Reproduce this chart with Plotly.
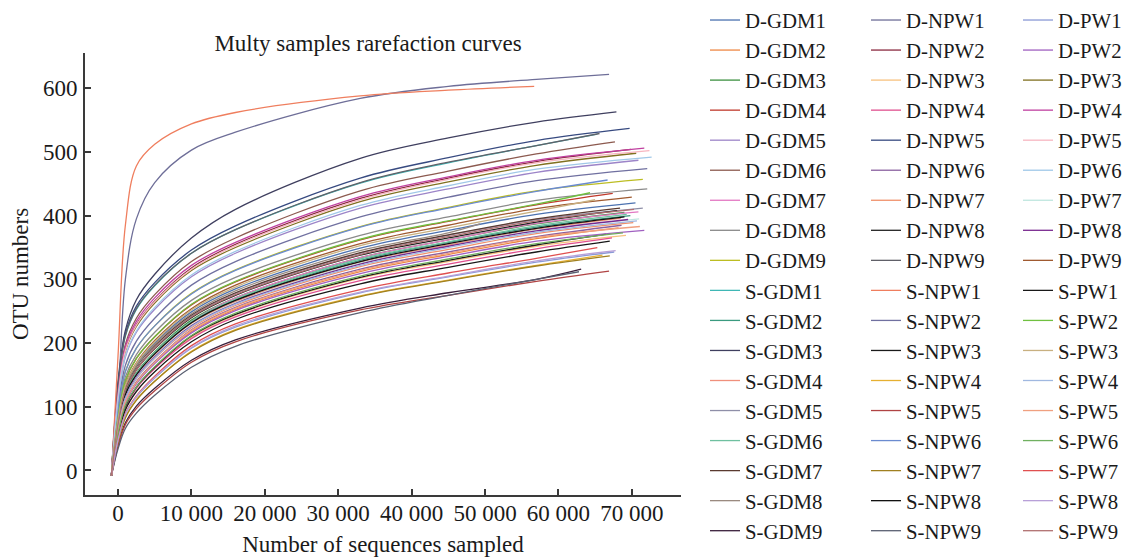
import plotly.graph_objects as go

FONT = "Liberation Serif, Times New Roman, serif"

depth_grid = [-900, 0, 1000, 2500, 5000, 10000, 16000, 33000, 45000, 57000]

# ---------------- column 1 of legend ----------------
d_gdm_names = ["D-GDM1", "D-GDM2", "D-GDM3", "D-GDM4", "D-GDM5", "D-GDM6", "D-GDM7", "D-GDM8", "D-GDM9"]
d_gdm_colors = ["#4c72b0", "#ee8844", "#3c9040", "#c0392b", "#9c84c8", "#8c5a4f", "#e377c2", "#8a8a8a", "#bcbd22"]
d_gdm_otu = [
    [-8, 78, 132, 166, 200, 249, 285, 349, 377, 402],
    [-8, 61, 107, 138, 170, 218, 253, 312, 339, 364],
    [-8, 70, 121, 153, 186, 236, 271, 334, 362, 387],
    [-8, 83, 141, 176, 210, 260, 296, 362, 391, 417],
    [-8, 109, 178, 217, 253, 304, 341, 412, 442, 468],
    [-8, 122, 198, 239, 276, 328, 365, 439, 470, 497],
    [-8, 67, 118, 150, 184, 234, 271, 334, 362, 388],
    [-8, 88, 147, 182, 217, 267, 303, 369, 398, 424],
    [-8, 93, 156, 192, 227, 278, 315, 383, 413, 439],
]
d_gdm_end_depth = [70500, 68200, 69000, 67400, 70900, 67700, 70900, 72100, 71500]
d_gdm_end_otu = [420, 381, 405, 435, 487, 516, 406, 442, 457]

s_gdm_names = ["S-GDM1", "S-GDM2", "S-GDM3", "S-GDM4", "S-GDM5", "S-GDM6", "S-GDM7", "S-GDM8", "S-GDM9"]
s_gdm_colors = ["#3fb7b5", "#3a9a7f", "#3f3f5f", "#f0907c", "#8f8fa8", "#6fc0a0", "#5a3a30", "#9a8a80", "#3a1f3c"]
s_gdm_otu = [
    [-8, 132, 211, 253, 290, 341, 378, 451, 483, 510],
    [-8, 69, 119, 151, 184, 233, 268, 330, 358, 382],
    [-8, 140, 220, 268, 308, 365, 410, 490, 522, 547],
    [-8, 68, 118, 150, 182, 231, 265, 327, 354, 379],
    [-8, 74, 126, 159, 193, 242, 278, 341, 369, 394],
    [-8, 69, 120, 152, 185, 234, 269, 332, 359, 384],
    [-8, 76, 130, 163, 196, 244, 279, 342, 370, 395],
    [-8, 77, 131, 164, 198, 246, 282, 345, 373],
    [-8, 40, 75, 101, 129, 173, 205, 255, 279, 300],
]
s_gdm_end_depth = [65300, 69800, 67900, 68500, 71500, 69300, 68400, 49300, 63100]
s_gdm_end_otu = [528, 400, 563, 396, 412, 402, 412, 387, 316]

# ---------------- column 2 of legend ----------------
d_npw_names = ["D-NPW1", "D-NPW2", "D-NPW3", "D-NPW4", "D-NPW5", "D-NPW6", "D-NPW7", "D-NPW8", "D-NPW9"]
d_npw_colors = ["#6e6e98", "#8b2a40", "#f7c27f", "#e0508f", "#374a80", "#8a60a0", "#f0906a", "#222222", "#606068"]
d_npw_otu = [
    [-8, 110, 300, 395, 452, 503, 531, 584, 603, 614],
    [-8, 116, 189, 229, 266, 318, 355, 427, 459, 485],
    [-8, 56, 101, 130, 161, 209, 244, 302, 328, 352],
    [-8, 56, 99, 129, 160, 207, 241, 298, 324, 348],
    [-8, 134, 215, 258, 295, 346, 384, 459, 491, 518],
    [-8, 61, 108, 139, 171, 221, 256, 316, 343, 367],
    [-8, 64, 113, 144, 176, 224, 259, 320, 347, 372],
    [-8, 73, 125, 158, 191, 240, 275, 338, 365, 390],
    [-8, 132, 212, 254, 291, 341, 378, 452, 484, 510],
]
d_npw_end_depth = [66900, 69900, 69200, 67300, 69700, 68600, 70200, 68000, 65600]
d_npw_end_otu = [622, 504, 369, 365, 537, 385, 389, 408, 529]

s_npw_names = ["S-NPW1", "S-NPW2", "S-NPW3", "S-NPW4", "S-NPW5", "S-NPW6", "S-NPW7", "S-NPW8", "S-NPW9"]
s_npw_colors = ["#ef7e5e", "#7070a0", "#1a1a1a", "#e6b031", "#b04444", "#6b8bd0", "#a08020", "#111111", "#5a6072"]
s_npw_otu = [
    [-8, 180, 385, 478, 512, 544, 562, 588, 597],
    [-8, 100, 165, 203, 239, 291, 328, 398, 429, 455],
    [-8, 57, 101, 131, 162, 211, 245, 303, 330, 354],
    [-8, 45, 83, 111, 140, 187, 221, 274, 299, 322],
    [-8, 38, 72, 97, 125, 170, 202, 252, 275, 297],
    [-8, 93, 155, 192, 227, 277, 314, 382, 412, 438],
    [-8, 45, 83, 110, 140, 186, 220, 273, 298, 321],
    [-8, 68, 119, 150, 183, 232, 267, 328, 356, 380],
    [-8, 34, 66, 90, 118, 162, 195, 248, 275, 300],
]
s_npw_end_depth = [56700, 72100, 66500, 66000, 66900, 66700, 67000, 69000, 62800]
s_npw_end_otu = [603, 474, 371, 338, 313, 456, 337, 398, 312]

# ---------------- column 3 of legend ----------------
d_pw_names = ["D-PW1", "D-PW2", "D-PW3", "D-PW4", "D-PW5", "D-PW6", "D-PW7", "D-PW8", "D-PW9"]
d_pw_colors = ["#8a9ad6", "#a060c0", "#807020", "#c040a0", "#f7b6c0", "#a0c8e8", "#bfe6df", "#7a2a90", "#a05a30"]
d_pw_otu = [
    [-8, 48, 88, 115, 145, 192, 225, 279, 304, 327],
    [-8, 60, 106, 136, 168, 216, 251, 309, 336, 360],
    [-8, 115, 187, 226, 263, 314, 350, 422, 453, 479],
    [-8, 120, 194, 234, 271, 322, 358, 430, 461, 487],
    [-8, 116, 188, 228, 265, 316, 353, 425, 457, 483],
    [-8, 110, 180, 219, 256, 307, 344, 416, 447, 473],
    [-8, 65, 114, 146, 179, 228, 263, 325, 352, 377],
    [-8, 65, 114, 146, 178, 227, 262, 324, 352, 376],
    [-8, 79, 135, 169, 204, 254, 291, 356, 385, 411],
]
d_pw_end_depth = [67600, 71700, 70600, 71700, 72400, 72700, 71000, 69500, 70000]
d_pw_end_otu = [343, 377, 498, 506, 502, 492, 395, 394, 429]

s_pw_names = ["S-PW1", "S-PW2", "S-PW3", "S-PW4", "S-PW5", "S-PW6", "S-PW7", "S-PW8", "S-PW9"]
s_pw_colors = ["#181818", "#70c040", "#c8b080", "#a0b8e0", "#f0a080", "#70b060", "#e05050", "#b8a0d8", "#b07070"]
s_pw_otu = [
    [-8, 53, 95, 124, 155, 202, 237, 293, 319, 343],
    [-8, 83, 141, 176, 210, 261, 297, 363, 392, 418],
    [-8, 79, 134, 168, 202, 252, 288, 353, 381, 407],
    [-8, 65, 113, 145, 177, 226, 261, 322, 350, 374],
    [-8, 61, 108, 138, 170, 220, 255, 314, 341, 366],
    [-8, 57, 102, 131, 163, 212, 247, 305, 332, 356],
    [-8, 49, 89, 117, 148, 196, 230, 284, 310, 333],
    [-8, 48, 88, 116, 146, 193, 227, 280, 305, 329],
    [-8, 73, 126, 158, 192, 241, 276, 339, 367, 392],
]
s_pw_end_depth = [67000, 64300, 65000, 70700, 71100, 68800, 65300, 67800, 70300]
s_pw_end_otu = [360, 436, 425, 392, 383, 373, 350, 345, 410]

x_tick_values = [0, 10000, 20000, 30000, 40000, 50000, 60000, 70000]
y_tick_values = [0, 100, 200, 300, 400, 500, 600]

groups = [
    (d_gdm_names, d_gdm_colors, d_gdm_otu, d_gdm_end_depth, d_gdm_end_otu, "legend"),
    (s_gdm_names, s_gdm_colors, s_gdm_otu, s_gdm_end_depth, s_gdm_end_otu, "legend"),
    (d_npw_names, d_npw_colors, d_npw_otu, d_npw_end_depth, d_npw_end_otu, "legend2"),
    (s_npw_names, s_npw_colors, s_npw_otu, s_npw_end_depth, s_npw_end_otu, "legend2"),
    (d_pw_names, d_pw_colors, d_pw_otu, d_pw_end_depth, d_pw_end_otu, "legend3"),
    (s_pw_names, s_pw_colors, s_pw_otu, s_pw_end_depth, s_pw_end_otu, "legend3"),
]

fig = go.Figure()
for names, colors, otus, end_d, end_o, leg in groups:
    for name, color, vals, ed, eo in zip(names, colors, otus, end_d, end_o):
        xs = depth_grid[:len(vals)] + [ed]
        ys = list(vals) + [eo]
        fig.add_trace(go.Scatter(
            x=xs, y=ys, name=name, mode="lines", legend=leg,
            line=dict(color=color, width=1.3, shape="spline", smoothing=1.0),
        ))

AXIS_COLOR = "#3a3a3a"
W, H = 1135, 557
L, R, T, B = 85, 454, 53, 62
plot_w = W - L - R


def paper_x(px):
    return (px - L) / plot_w


legend_common = dict(
    xref="paper", yref="container", y=1.0, yanchor="top", xanchor="left",
    orientation="v", bgcolor="rgba(0,0,0,0)", borderwidth=0, tracegroupgap=0,
    maxheight=H,
    font=dict(family=FONT, size=20.8, color="#1a1a1a"),
)

fig.update_layout(
    width=W, height=H,
    margin=dict(l=L, r=R, t=T, b=B, autoexpand=False),
    paper_bgcolor="white", plot_bgcolor="white",
    separators=". ",
    font=dict(family=FONT, size=23, color="#1a1a1a"),
    title=dict(
        text="Multy samples rarefaction curves",
        x=paper_x(368), xref="paper", xanchor="center",
        y=1 - 43 / H, yref="container", yanchor="middle",
        font=dict(family=FONT, size=23, color="#1a1a1a"),
    ),
    xaxis=dict(
        range=[-4500, 76700], tickvals=x_tick_values, tickformat=",d",
        ticks="inside", ticklen=6, tickwidth=1.5, tickcolor=AXIS_COLOR,
        showline=True, linecolor=AXIS_COLOR, linewidth=1.6,
        showgrid=False, zeroline=False, ticklabelstandoff=-3,
        tickfont=dict(family=FONT, size=23, color="#1a1a1a"),
        title=dict(text="Number of sequences sampled", standoff=12,
                   font=dict(family=FONT, size=23, color="#1a1a1a")),
    ),
    yaxis=dict(
        range=[-38.5, 655.4], tickvals=y_tick_values,
        ticks="inside", ticklen=6, tickwidth=1.5, tickcolor=AXIS_COLOR,
        showline=True, linecolor=AXIS_COLOR, linewidth=1.6,
        showgrid=False, zeroline=False, ticklabelstandoff=1,
        tickfont=dict(family=FONT, size=23, color="#1a1a1a"),
        title=dict(text="OTU numbers", standoff=8,
                   font=dict(family=FONT, size=23, color="#1a1a1a")),
    ),
    legend=dict(legend_common, x=paper_x(705)),
    legend2=dict(legend_common, x=paper_x(866)),
    legend3=dict(legend_common, x=paper_x(1018)),
    showlegend=True,
)

fig.write_html(
    "out.html",
    config={"displayModeBar": False},
    post_script="document.body.style.margin='0';document.body.style.overflow='hidden';",
)
